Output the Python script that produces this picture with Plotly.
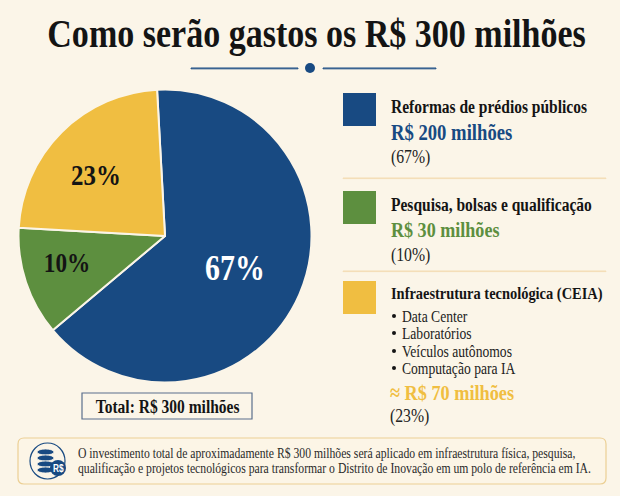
import plotly.graph_objects as go

BG = "#FBF5E8"
BLUE = "#184A82"
GREEN = "#5D8F3F"
YELLOW = "#F0BE41"
INK = "#141414"
SERIF = "Liberation Serif"

categories = ["Reformas de prédios públicos", "Pesquisa, bolsas e qualificação", "Infraestrutura tecnológica (CEIA)"]
slice_shares = [64.75, 12.0, 23.25]
slice_labels = ["67%", "10%", "23%"]
amounts = ["R$ 200 milhões", "R$ 30 milhões", "≈ R$ 70 milhões"]
percents = ["(67%)", "(10%)", "(23%)"]
ceia_items = ["Data Center", "Laboratórios", "Veículos autônomos", "Computação para IA"]
title = "Como serão gastos os R$ 300 milhões"
total = "Total: R$ 300 milhões"
note = ["O investimento total de aproximadamente R$ 300 milhões será aplicado em infraestrutura física, pesquisa,",
        "qualificação e projetos tecnológicos para transformar o Distrito de Inovação em um polo de referência em IA."]

W, H = 620, 496
px = lambda v: v / W
py = lambda v: 1 - v / H

fig = go.Figure(go.Pie(
    values=slice_shares, labels=categories, sort=False, direction="clockwise", rotation=-3.1,
    marker=dict(colors=[BLUE, GREEN, YELLOW], line=dict(color=BG, width=2)),
    textinfo="none", hoverinfo="label", showlegend=False,
    domain=dict(x=[px(165 - 146.5), px(165 + 146.5)], y=[py(382.5), py(89.5)]),
))

ann = []
def T(x, y, s, size, color=INK, bold=False, anchor="left"):
    ann.append(dict(x=px(x - 2 if anchor == "left" else x), y=py(y), xref="paper", yref="paper",
                    text=f"<b>{s}</b>" if bold else s,
                    showarrow=False, xanchor=anchor, align=anchor, yanchor="middle",
                    font=dict(family=SERIF, size=size, color=color)))

shapes = []
def R(x0, y0, x1, y1, fill=None, line=None, w=1, kind="rect"):
    shapes.append(dict(type=kind, xref="paper", yref="paper", x0=px(x0), x1=px(x1), y0=py(y1), y1=py(y0),
                       fillcolor=fill or "rgba(0,0,0,0)", line=dict(color=line or "rgba(0,0,0,0)", width=w if line else 0)))

def rounded(x0, y0, x1, y1, r, fill, line, w):
    X = lambda v: f"{px(v):.5f}"
    Y = lambda v: f"{py(v):.5f}"
    path = (f"M {X(x0 + r)} {Y(y0)} L {X(x1 - r)} {Y(y0)} Q {X(x1)} {Y(y0)} {X(x1)} {Y(y0 + r)} "
            f"L {X(x1)} {Y(y1 - r)} Q {X(x1)} {Y(y1)} {X(x1 - r)} {Y(y1)} "
            f"L {X(x0 + r)} {Y(y1)} Q {X(x0)} {Y(y1)} {X(x0)} {Y(y1 - r)} "
            f"L {X(x0)} {Y(y0 + r)} Q {X(x0)} {Y(y0)} {X(x0 + r)} {Y(y0)} Z")
    shapes.append(dict(type="path", xref="paper", yref="paper", path=path, fillcolor=fill, line=dict(color=line, width=w)))

T(317, 33, title, 41, bold=True, anchor="center")
R(191, 68, 298, 68.8, line=BLUE, w=1)
R(323, 68, 436, 68.8, line=BLUE, w=1)
R(305, 63, 315, 73, fill=BLUE, kind="circle")

for x0, y0, c in [(343, 93, BLUE), (343, 191, GREEN), (343, 281, YELLOW)]:
    R(x0, y0, x0 + 33, y0 + 33, fill=c)
R(343, 178, 606, 178.6, line="#F3DDB5", w=1)
R(343, 271, 606, 271.6, line="#F3DDB5", w=1)

T(391, 106, categories[0], 18.7, bold=True)
T(391, 132, amounts[0], 22.5, BLUE, True)
T(391, 157, percents[0], 19, "#222222")
T(391, 204, categories[1], 18.7, bold=True)
T(391, 230, amounts[1], 21.8, GREEN, True)
T(391, 255, percents[1], 19, "#222222")
T(391, 293, categories[2], 17.4, bold=True)
for y, item in zip([316, 333, 351, 368], ceia_items):
    R(392, y - 2, 396, y + 2, fill=INK, kind="circle")
    T(402, y, item, 16.4, "#222222")
T(390, 392, amounts[2], 22, YELLOW, True)
T(390, 416, percents[2], 19, "#222222")

T(235, 268, slice_labels[0], 36, "white", True, "center")
T(67, 262, slice_labels[1], 28, INK, True, "center")
T(96, 175, slice_labels[2], 30, INK, True, "center")

R(82, 393, 252, 419, fill=BG, line="#5A6F8C", w=1.2)
T(167, 406, total, 18.7, bold=True, anchor="center")

rounded(18, 438, 606, 484, 6, "#FCF5E6", "#EBCF94", 1.2)
R(30, 443, 65, 479, fill=BG, line=BLUE, w=1.2, kind="circle")
for y in (449, 455, 461, 467):
    R(37, y, 54, y + 6, fill=BLUE, line=BG, w=0.8, kind="circle")
R(50, 460, 66, 476, fill=BLUE, kind="circle")
T(58, 468, "<b>R$</b>", 10, "white", False, "center")
ann[-1]["font"]["family"] = "Liberation Sans"
T(78, 453, note[0], 14.1, "#2A2A2A")
T(78, 468, note[1], 14.1, "#2A2A2A")

fig.update_layout(width=W, height=H, margin=dict(l=0, r=0, t=0, b=0), paper_bgcolor=BG,
                  annotations=ann, shapes=shapes)
post = """
document.body.style.margin='0';
document.body.style.background='#FBF5E8';
var s=document.createElement('style');
s.textContent="text.annotation-text{transform-box:fill-box;transform:scaleX(.83);transform-origin:left center}"
 +"text.annotation-text[text-anchor=middle]{transform-origin:center center}";
document.head.appendChild(s);
"""
fig.write_html("out.html", config=dict(displayModeBar=False), post_script=post)
